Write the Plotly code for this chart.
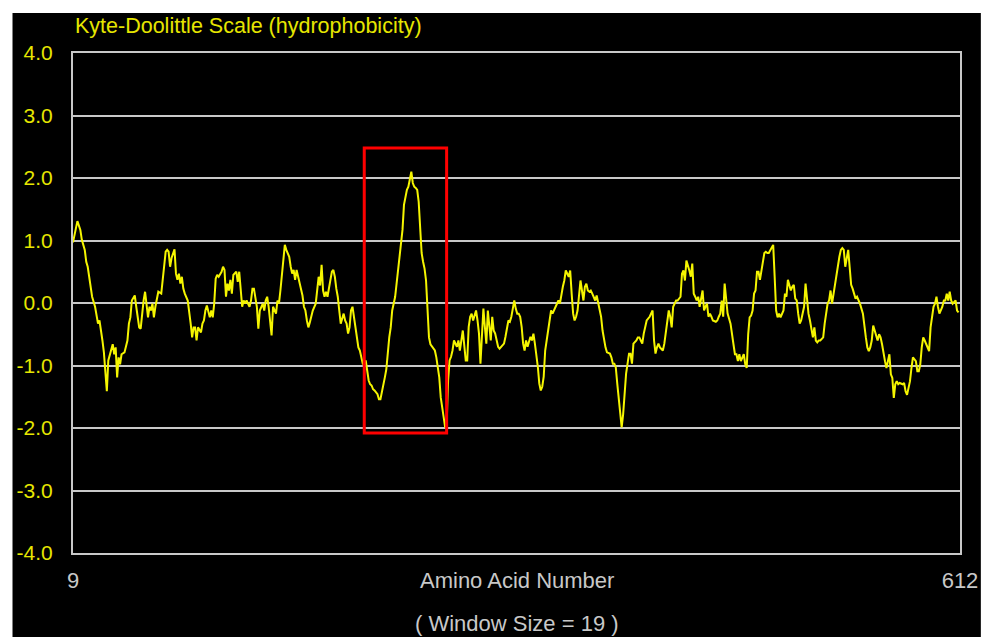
import plotly.graph_objects as go

# ---------------- data ----------------
residue = [
    9, 10, 12, 14, 15, 17, 18, 19, 20, 21, 22, 24, 25, 26, 27, 28, 29, 30, 31, 32, 33, 34, 35, 36, 37, 38, 39, 40,
    41, 42, 44, 45, 46, 47, 48, 49, 51, 52, 53, 54, 55, 56, 57, 58, 60, 61, 62, 63, 64, 65, 66, 67, 69, 70, 71, 72,
    73, 74, 75, 76, 78, 79, 80, 81, 82, 83, 84, 85, 87, 88, 89, 90, 91, 92, 93, 94, 96, 97, 98, 99, 100,
    102, 103, 104, 105, 106, 107, 108, 110, 111, 112, 113, 114, 115, 116, 117, 118, 120, 121, 122, 123, 124, 125,
    126, 127, 129, 130, 131, 132, 133, 134, 135, 136, 138, 139, 140, 141, 142, 143, 144, 145, 147, 148, 149, 150,
    151, 152, 153, 154, 156, 157, 158, 159, 160, 161, 162, 163, 165, 166, 167, 168, 169, 170, 171, 172, 174, 175,
    176, 177, 178, 179, 180, 181, 182, 184, 185, 186, 187, 188, 189,
    190, 191, 193, 194, 195, 196, 197, 198, 199, 200, 201, 202, 203, 204, 205, 206, 207, 208, 209, 210, 211, 212,
    213, 214, 216, 217, 218, 219, 220, 221, 222, 223, 224, 225, 226, 228, 229, 230, 231, 232, 233, 234, 235, 236,
    237, 238, 239, 240, 241, 242, 243, 244, 245, 246, 247, 248, 249, 250, 251, 252, 253, 255, 256, 257, 258, 259,
    260, 261, 262, 263,
    264, 265, 266, 267, 268, 269, 270, 271, 272, 274, 275, 276, 277, 278, 279, 280, 281, 283, 284, 285, 286, 287,
    288, 289, 290, 291, 293, 294, 295, 296, 297, 298, 299, 300, 302, 303, 304, 305, 306, 307, 308, 309, 310, 311,
    312, 313, 314, 315, 316, 317, 318, 320, 321, 322, 323, 324, 325, 326, 327, 328, 329, 330, 331, 332, 333, 334,
    335, 337, 338, 339, 340, 341, 342, 343, 344, 346, 347, 348, 349, 350, 351, 352, 353, 354, 356, 357, 358,
    359, 360, 361, 362, 363, 364, 365, 366, 367, 368, 369, 370, 371, 372, 374, 375, 376, 377, 378, 379, 380, 381,
    382, 383, 384, 385, 386, 387, 388, 389, 390, 392, 393, 394, 395, 396, 397, 398, 399, 401, 402, 403, 404, 405,
    406, 407, 408, 410, 411, 412, 413, 414, 415, 416, 417, 419, 420, 421, 422, 423, 424, 425, 426, 428, 429, 430,
    431, 432, 433, 434, 435, 437, 438, 439, 440, 441, 442, 443, 444, 446, 447, 448, 449, 450, 451, 452,
    453, 454, 456, 457, 458, 459, 460, 461, 462, 463, 465, 466, 467, 468, 469, 470, 471, 472, 473, 474, 475, 476,
    477, 478, 479, 480, 481, 482, 483, 484, 485, 486, 487, 488, 489, 490, 491, 492, 493, 494, 495, 497, 498, 499,
    500, 501, 502, 503, 504, 506, 507, 508, 509, 510, 511, 512, 513, 514, 515, 516, 517, 519, 520, 521, 522, 523,
    524, 525, 526, 528, 529, 530, 531, 532, 533,
    534, 536, 537, 538, 539, 540, 541, 542, 543, 544, 546, 547, 548, 549, 550, 551, 552, 553, 555, 556, 557, 558,
    559, 560, 561, 562, 564, 565, 566, 567, 568, 569, 570, 571, 573, 574, 575, 576, 577, 578, 579, 580, 582, 583,
    584, 585, 586, 587, 588, 589, 591, 592, 593, 594, 595, 596, 597, 598, 600, 601, 602, 603, 604, 605, 606, 607,
    609, 610, 611,
]

hydrophobicity = [
    0.97, 1.10, 1.31, 1.17, 1.01, 0.85, 0.66, 0.58, 0.42, 0.26, 0.10, -0.06, -0.23, -0.33, -0.28, -0.41, -0.60,
    -0.79, -1.14, -1.41, -0.92, -0.82, -0.76, -0.66, -0.82, -0.71, -1.19, -0.87, -0.98, -0.82, -0.79, -0.71, -0.60,
    -0.33, -0.23, 0.04, 0.12, -0.06, -0.28, -0.39, -0.41, -0.17, 0.04, 0.18, -0.23, -0.06, -0.12, -0.01, -0.23,
    -0.06, 0.04, 0.18, 0.15, 0.37, 0.58, 0.82, 0.85, 0.82, 0.58, 0.72, 0.86, 0.47, 0.37, 0.47, 0.31, 0.42, 0.23,
    0.15, 0.04, -0.12, -0.33, -0.55, -0.39, -0.39, -0.60, -0.39, -0.47, -0.33, -0.28, -0.12, -0.04,
    -0.23, -0.12, -0.23, -0.01, 0.39, 0.45, 0.42, 0.50, 0.58, 0.53, 0.10, 0.31, 0.20, 0.37, 0.15, 0.45, 0.50, 0.34,
    0.50, 0.26, -0.06, 0.04, -0.01, 0.04, -0.06, 0.04, 0.23, 0.23, 0.10, -0.06, -0.41, -0.12, -0.01, -0.12, 0.04,
    0.10, -0.06, -0.28, -0.52, -0.06, -0.17, 0.04, -0.01, 0.20, 0.42, 0.74, 0.93, 0.85, 0.74, 0.58, 0.47, 0.53,
    0.37, 0.53, 0.42, 0.34, 0.12, -0.06, -0.12, -0.28, -0.39, -0.31, -0.23, -0.12, -0.01, 0.23, 0.42, 0.28, 0.61,
    0.20, 0.10, 0.18, 0.10, 0.37, 0.50, 0.53, 0.42, 0.23, 0.10,
    -0.12, -0.33, -0.17, -0.28, -0.33, -0.49, -0.39, -0.12, -0.06, -0.23, -0.44, -0.60, -0.71, -0.76, -0.87, -0.97,
    -0.97, -0.92, -1.08, -1.24, -1.30, -1.32, -1.38, -1.40, -1.46, -1.54, -1.54, -1.40, -1.30, -1.19, -1.06, -0.76,
    -0.55, -0.39, -0.12, 0.10, 0.31, 0.55, 0.79, 0.98, 1.17, 1.57, 1.73, 1.81, 1.86, 2.00, 2.10, 1.92, 1.86, 1.84,
    1.81, 1.62, 1.10, 0.80, 0.66, 0.55, 0.36, -0.05, -0.55, -0.66, -0.70, -0.76, -0.87, -1.03, -1.19, -1.51, -1.72,
    -1.83, -1.99, -1.95,
    -1.24, -0.92, -0.86, -0.76, -0.60, -0.65, -0.70, -0.60, -0.76, -0.44, -0.76, -0.92, -0.92, -0.38, -0.22, -0.17,
    -0.28, -0.12, -0.28, -0.49, -0.97, -0.60, -0.09, -0.38, -0.65, -0.12, -0.60, -0.22, -0.44, -0.49, -0.60, -0.70,
    -0.73, -0.70, -0.65, -0.54, -0.38, -0.28, -0.30, -0.22, -0.09, 0.04, -0.09, -0.17, -0.17, -0.22, -0.38, -0.65,
    -0.76, -0.60, -0.70, -0.54, -0.60, -0.49, -0.65, -0.81, -1.02, -1.29, -1.40, -1.34, -1.18, -0.76, -0.60, -0.38,
    -0.28, -0.12, -0.17, -0.06, -0.01, 0.04, -0.01, 0.15, 0.26, 0.36, 0.52, 0.42, 0.52, 0.15, -0.17, -0.28, -0.22,
    -0.12, 0.10, 0.36, 0.04, 0.26, 0.31,
    0.20, 0.18, 0.20, 0.15, 0.10, 0.04, 0.12, -0.01, -0.12, -0.22, -0.44, -0.60, -0.71, -0.79, -0.81, -0.87, -0.97,
    -0.97, -1.03, -1.29, -1.56, -1.72, -1.99, -1.78, -1.45, -1.13, -0.97, -0.81, -0.81, -0.97, -0.65, -0.60, -0.55,
    -0.55, -0.60, -0.65, -0.49, -0.39, -0.28, -0.22, -0.17, -0.12, -0.60, -0.81, -0.71, -0.65, -0.71, -0.76, -0.65,
    -0.49, -0.33, -0.12, -0.22, -0.39, -0.06, 0.04, 0.04, 0.07, 0.10, 0.47, 0.52, 0.36, 0.68, 0.52, 0.42, 0.63,
    0.15, 0.10, 0.04, 0.10, -0.06, 0.20, -0.12, -0.06, -0.01, -0.22, -0.17, -0.22, -0.28, -0.30, -0.28, -0.22,
    -0.17, 0.04, -0.22, 0.31,
    0.10, -0.17, -0.33, -0.55, -0.66, -0.82, -0.82, -0.93, -0.82, -0.93, -0.82, -0.98, -1.04, -0.50, -0.23, -0.20,
    -0.12, 0.15, 0.20, 0.50, 0.50, 0.37, 0.53, 0.69, 0.80, 0.82, 0.80, 0.80, 0.85, 0.88, 0.93, 0.42, -0.12, -0.23,
    -0.17, -0.23, -0.17, -0.12, 0.15, 0.10, 0.37, 0.20, 0.26, 0.29, 0.07, 0.04, -0.17, -0.33, -0.28, -0.06, 0.31,
    -0.01, -0.17, -0.28, -0.39, -0.55, -0.39, -0.60, -0.63, -0.60, -0.60, -0.55, -0.33, -0.12, -0.01, 0.04, 0.20,
    -0.01, 0.15, 0.42, 0.58, 0.74, 0.85, 0.88, 0.85,
    0.58, 0.85, 0.58, 0.29, 0.23, 0.15, 0.07, 0.10, 0.04, -0.01, -0.17, -0.39, -0.55, -0.71, -0.77, -0.71, -0.60,
    -0.36, -0.50, -0.60, -0.50, -0.55, -0.66, -0.82, -0.93, -1.04, -0.82, -1.14, -1.20, -1.52, -1.30, -1.25, -1.30,
    -1.28, -1.30, -1.28, -1.41, -1.47, -1.36, -1.25, -1.04, -0.87, -0.93, -1.09, -1.09, -0.98, -0.71, -0.55, -0.60,
    -0.66, -0.77, -0.39, -0.23, -0.06, -0.01, 0.10, -0.06, -0.17, -0.06, 0.04, 0.04, 0.15, 0.04, 0.18, 0.04, -0.01,
    0.04, -0.12, -0.15,
]

x_range = [9, 612]
x_tick_vals = [9, 612]
x_tick_text = ["9", "612"]
y_range = [-4, 4]
y_tick_vals = [-4, -3, -2, -1, 0, 1, 2, 3, 4]
y_tick_text = ["-4.0", "-3.0", "-2.0", "-1.0", "0.0", "1.0", "2.0", "3.0", "4.0"]

highlight_x = [207, 263]      # residues enclosed by the red box
highlight_y = [-2.08, 2.48]   # KD range enclosed by the red box

title_text = "Kyte-Doolittle Scale (hydrophobicity)"
x_label = "Amino Acid Number"
window_text = "( Window Size = 19 )"

# ---------------- styling ----------------
FONT = "Liberation Sans, Arial, sans-serif"
YELLOW_TEXT = "#e6e600"
LINE_YELLOW = "#f5f500"
GREY = "#c8c8c8"

fig = go.Figure()
fig.add_trace(go.Scatter(
    x=residue, y=hydrophobicity, mode="lines",
    line=dict(color=LINE_YELLOW, width=2),
    showlegend=False, hoverinfo="x+y",
))

fig.update_layout(
    width=990, height=637,
    margin=dict(l=73, r=23, t=53, b=84),
    paper_bgcolor="black", plot_bgcolor="black",
    font=dict(family=FONT, size=22, color=GREY),
    xaxis=dict(
        range=x_range, tickmode="array", tickvals=x_tick_vals, ticktext=x_tick_text,
        showgrid=False, zeroline=False,
        showline=True, mirror=True, linecolor=GREY, linewidth=2,
        ticks="outside", ticklen=7, tickcolor="black",
        tickfont=dict(family=FONT, size=22, color=GREY),
    ),
    yaxis=dict(
        range=y_range, tickmode="array", tickvals=y_tick_vals, ticktext=y_tick_text,
        showgrid=True, gridcolor=GREY, gridwidth=2, zeroline=False,
        showline=True, mirror=True, linecolor=GREY, linewidth=2,
        ticks="outside", ticklen=14, tickcolor="black",
        tickfont=dict(family=FONT, size=21, color=YELLOW_TEXT),
    ),
    shapes=[
        # red highlight box
        dict(type="rect", xref="x", yref="y",
             x0=highlight_x[0], x1=highlight_x[1], y0=highlight_y[0], y1=highlight_y[1],
             line=dict(color="#ff0000", width=3), fillcolor="rgba(0,0,0,0)", layer="above"),
        # white frame strips of the screenshot
        dict(type="rect", xref="paper", yref="paper", x0=-0.1, x1=-0.0682, y0=-0.2, y1=1.2,
             line=dict(width=0), fillcolor="white", layer="above"),
        dict(type="rect", xref="paper", yref="paper", x0=-0.1, x1=1.1, y0=1.08, y1=1.2,
             line=dict(width=0), fillcolor="white", layer="above"),
        dict(type="rect", xref="paper", yref="paper", x0=1.0235, x1=1.1, y0=-0.2, y1=1.2,
             line=dict(width=0), fillcolor="white", layer="above"),
    ],
    annotations=[
        dict(text=title_text, xref="paper", yref="paper", x=0.0, y=1.054,
             xanchor="left", yanchor="middle", showarrow=False,
             font=dict(family=FONT, size=21.5, color=YELLOW_TEXT)),
        dict(text=x_label, xref="paper", yref="paper", x=0.5, y=-0.054,
             xanchor="center", yanchor="middle", showarrow=False,
             font=dict(family=FONT, size=22, color=GREY)),
        dict(text=window_text, xref="paper", yref="paper", x=0.5, y=-0.14,
             xanchor="center", yanchor="middle", showarrow=False,
             font=dict(family=FONT, size=22, color=GREY)),
    ],
)

# remove the default page margin so the 990x637 figure fills the window exactly
fig.write_html(
    "out.html",
    config={"displayModeBar": False},
    post_script="document.body.style.margin='0';document.body.style.overflow='hidden';",
)
